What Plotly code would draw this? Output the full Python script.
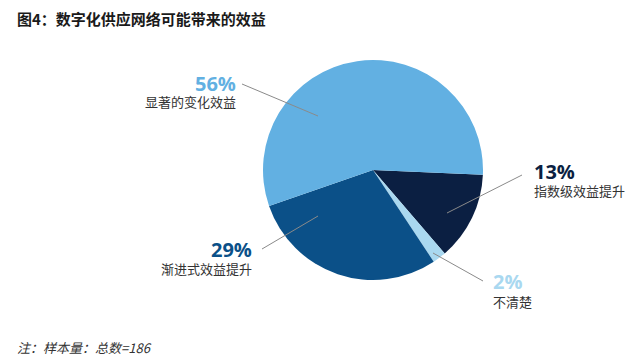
import plotly.graph_objects as go

categories = ["指数级效益提升", "不清楚", "渐进式效益提升", "显著的变化效益"]
values = [13, 2, 29, 56]
pct_labels = ["13%", "2%", "29%", "56%"]
colors = ["#0b1f42", "#a9d8f0", "#0b5088", "#62b0e2"]

title_text = "图4：数字化供应网络可能带来的效益"
note_text = "注：样本量：总数=186"

W, H = 640, 357
OFF = 8  # page body margin offset
cx, cy, r = 373 - OFF, 170 - OFF, 110

fig = go.Figure(go.Pie(
    labels=categories, values=values, sort=False, direction="clockwise",
    rotation=92.5, textinfo="none", hoverinfo="label+percent",
    marker=dict(colors=colors, line=dict(width=0)),
    domain=dict(x=[(cx - r) / W, (cx + r) / W], y=[(H - cy - r) / H, (H - cy + r) / H]),
    showlegend=False,
))

def px(x):
    return (x - OFF) / W

def py(y):
    return 1 - (y - OFF) / H

cjk = "Noto Sans CJK SC"
pct_font = "Open Sans, Noto Sans CJK SC"

label_pos = {
    "显著的变化效益": dict(x=237, y1=83, y2=102, anchor="right"),
    "指数级效益提升": dict(x=533, y1=172, y2=190, anchor="left"),
    "渐进式效益提升": dict(x=253, y1=249.5, y2=268.5, anchor="right"),
    "不清楚": dict(x=492, y1=281.5, y2=301, anchor="left"),
}
leader = {
    "显著的变化效益": ((242, 84), (318, 116)),
    "指数级效益提升": ((522, 175), (447, 213)),
    "渐进式效益提升": ((262, 249), (318, 216)),
    "不清楚": ((483, 281), (433, 253)),
}

annotations = []
shapes = []
for cat, pct, col in zip(categories, pct_labels, colors):
    p = label_pos[cat]
    annotations.append(dict(
        text="<b>%s</b>" % pct, x=px(p["x"]), y=py(p["y1"]), xref="paper", yref="paper",
        xanchor=p["anchor"], yanchor="middle", showarrow=False,
        font=dict(family=pct_font, size=20, color=col), borderpad=0,
    ))
    annotations.append(dict(
        text=cat, x=px(p["x"]), y=py(p["y2"]), xref="paper", yref="paper",
        xanchor=p["anchor"], yanchor="middle", showarrow=False,
        font=dict(family=cjk, size=13, color="#333333"), borderpad=0,
    ))
    (x0, y0), (x1, y1) = leader[cat]
    shapes.append(dict(type="line", xref="paper", yref="paper",
                       x0=px(x0), y0=py(y0), x1=px(x1), y1=py(y1),
                       line=dict(color="#8a8a8a", width=1)))

annotations.append(dict(
    text="<b>%s</b>" % title_text, x=px(16), y=py(18.5), xref="paper", yref="paper",
    xanchor="left", yanchor="middle", showarrow=False,
    font=dict(family=cjk, size=15, color="#1a1a1a"), borderpad=0,
))
annotations.append(dict(
    text="<i>%s</i>" % note_text, x=px(16), y=py(347.5), xref="paper", yref="paper",
    xanchor="left", yanchor="middle", showarrow=False,
    font=dict(family=cjk, size=13, color="#333333"), borderpad=0,
))

fig.update_layout(
    width=W, height=H, margin=dict(l=0, r=0, t=0, b=0),
    paper_bgcolor="white", plot_bgcolor="white",
    annotations=annotations, shapes=shapes,
)

fig.write_html("out.html")
